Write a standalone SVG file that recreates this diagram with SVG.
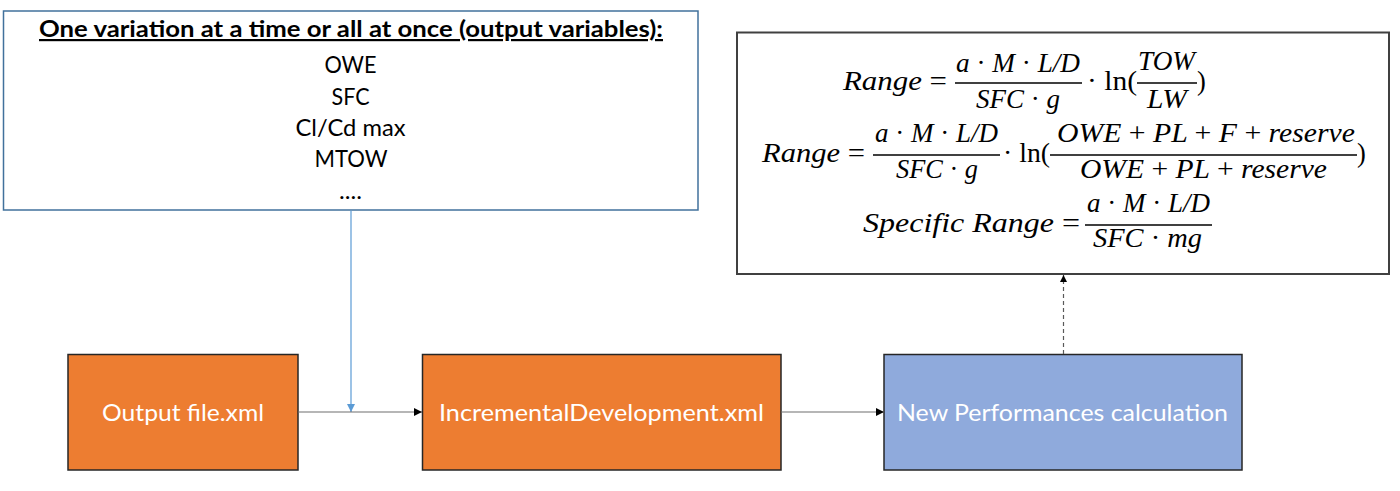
<svg xmlns="http://www.w3.org/2000/svg" width="1400" height="491" viewBox="0 0 1400 491">
<defs>
<style>
.ui{font-family:Lato,"Liberation Sans",sans-serif;}
.lst{font-size:23.5px;fill:#000;text-anchor:middle;}
.ttl{font-size:22px;font-weight:bold;fill:#000;text-decoration:underline;}
.lbl{font-size:24px;fill:#fff;text-anchor:middle;}
.m{font-family:"Liberation Serif","DejaVu Serif",serif;font-style:italic;font-size:26.5px;fill:#000;}
.u{font-style:normal;}
.bar{stroke:#000;stroke-width:1.5;}
.node{stroke:#262626;stroke-width:1.5;}
</style>
<marker id="ab" viewBox="0 0 10 10" refX="10" refY="5" markerWidth="9" markerHeight="8" markerUnits="userSpaceOnUse" orient="auto">
<path d="M0,0 L10,5 L0,10 Z" fill="#5B9BD5"/>
</marker>
<marker id="ak" viewBox="0 0 10 10" refX="10" refY="5" markerWidth="8" markerHeight="8" markerUnits="userSpaceOnUse" orient="auto">
<path d="M0,0 L10,5 L0,10 Z" fill="#000"/>
</marker>
<marker id="ad" viewBox="0 0 10 10" refX="10" refY="5" markerWidth="8" markerHeight="7" markerUnits="userSpaceOnUse" orient="auto">
<path d="M0,0 L10,5 L0,10 Z" fill="#000"/>
</marker>
</defs>
<rect width="1400" height="491" fill="#fff"/>

<g id="variables">
<rect x="3.5" y="11" width="694.5" height="199" fill="#fff" stroke="#41719C" stroke-width="1.5"/>
<text class="ui ttl" x="39" y="37" textLength="624" lengthAdjust="spacingAndGlyphs">One variation at a time or all at once (output variables):</text>
<text class="ui lst" x="350.5" y="73" textLength="52" lengthAdjust="spacingAndGlyphs">OWE</text>
<text class="ui lst" x="350.5" y="105" textLength="38" lengthAdjust="spacingAndGlyphs">SFC</text>
<text class="ui lst" x="350.5" y="136" textLength="110" lengthAdjust="spacingAndGlyphs">Cl/Cd max</text>
<text class="ui lst" x="351" y="167" textLength="73" lengthAdjust="spacingAndGlyphs">MTOW</text>
<text class="ui lst" x="350.5" y="199" textLength="23" lengthAdjust="spacingAndGlyphs">....</text>
</g>

<g id="formulas">
<rect x="737" y="32.5" width="652" height="241.5" fill="#fff" stroke="#404040" stroke-width="2"/>
<!-- line 1 -->
<text class="m" x="843" y="90" textLength="104" lengthAdjust="spacingAndGlyphs">Range <tspan class="u">=</tspan></text>
<text class="m" x="956" y="72" textLength="124" lengthAdjust="spacingAndGlyphs">a <tspan class="u">·</tspan> M <tspan class="u">·</tspan> L/D</text>
<line class="bar" x1="955" y1="83" x2="1082" y2="83"/>
<text class="m" x="976" y="108" textLength="84" lengthAdjust="spacingAndGlyphs">SFC <tspan class="u">·</tspan> g</text>
<text class="m u" x="1087" y="90" textLength="50" lengthAdjust="spacingAndGlyphs">· ln(</text>
<text class="m" x="1138" y="70" textLength="57" lengthAdjust="spacingAndGlyphs">TOW</text>
<line class="bar" x1="1137" y1="83" x2="1197" y2="83"/>
<text class="m" x="1147" y="108" textLength="40" lengthAdjust="spacingAndGlyphs">LW</text>
<text class="m u" x="1197" y="90">)</text>
<!-- line 2 -->
<text class="m" x="762" y="162" textLength="103" lengthAdjust="spacingAndGlyphs">Range <tspan class="u">=</tspan></text>
<text class="m" x="875" y="142" textLength="123" lengthAdjust="spacingAndGlyphs">a <tspan class="u">·</tspan> M <tspan class="u">·</tspan> L/D</text>
<line class="bar" x1="873" y1="155" x2="1000" y2="155"/>
<text class="m" x="896" y="178" textLength="82" lengthAdjust="spacingAndGlyphs">SFC <tspan class="u">·</tspan> g</text>
<text class="m u" x="1003" y="162" textLength="47" lengthAdjust="spacingAndGlyphs">· ln(</text>
<text class="m" x="1057" y="142" textLength="298" lengthAdjust="spacingAndGlyphs">OWE <tspan class="u">+</tspan> PL <tspan class="u">+</tspan> F <tspan class="u">+</tspan> reserve</text>
<line class="bar" x1="1050" y1="155" x2="1357" y2="155"/>
<text class="m" x="1080" y="178" textLength="247" lengthAdjust="spacingAndGlyphs">OWE <tspan class="u">+</tspan> PL <tspan class="u">+</tspan> reserve</text>
<text class="m u" x="1357" y="162">)</text>
<!-- line 3 -->
<text class="m" x="863" y="232" textLength="217" lengthAdjust="spacingAndGlyphs">Specific Range <tspan class="u">=</tspan></text>
<text class="m" x="1087" y="212" textLength="123" lengthAdjust="spacingAndGlyphs">a <tspan class="u">·</tspan> M <tspan class="u">·</tspan> L/D</text>
<line class="bar" x1="1085" y1="225" x2="1212" y2="225"/>
<text class="m" x="1093" y="247" textLength="109" lengthAdjust="spacingAndGlyphs">SFC <tspan class="u">·</tspan> mg</text>
</g>

<g id="output-file">
<rect class="node" x="68" y="354.5" width="230" height="115.5" fill="#ED7D31"/>
<text class="ui lbl" x="183" y="421" textLength="162" lengthAdjust="spacingAndGlyphs">Output file.xml</text>
</g>

<g id="incremental">
<rect class="node" x="422.5" y="354.5" width="358.5" height="115.5" fill="#ED7D31"/>
<text class="ui lbl" x="601.5" y="421" textLength="325" lengthAdjust="spacingAndGlyphs">IncrementalDevelopment.xml</text>
</g>

<g id="new-performances">
<rect class="node" x="884" y="354.5" width="358" height="115.5" fill="#8FAADC"/>
<text class="ui lbl" x="1062.5" y="421" textLength="331" lengthAdjust="spacingAndGlyphs">New Performances calculation</text>
</g>

<g id="connectors" fill="none">
<line x1="351" y1="210.5" x2="351" y2="412" stroke="#5B9BD5" stroke-width="1.2" marker-end="url(#ab)"/>
<line x1="298" y1="412" x2="422" y2="412" stroke="#6F6F6F" stroke-width="1.2" marker-end="url(#ak)"/>
<line x1="781" y1="412" x2="884" y2="412" stroke="#6F6F6F" stroke-width="1.2" marker-end="url(#ak)"/>
<line x1="1063.5" y1="354" x2="1063.5" y2="275" stroke="#595959" stroke-width="1.2" stroke-dasharray="4 3" marker-end="url(#ad)"/>
</g>
</svg>
